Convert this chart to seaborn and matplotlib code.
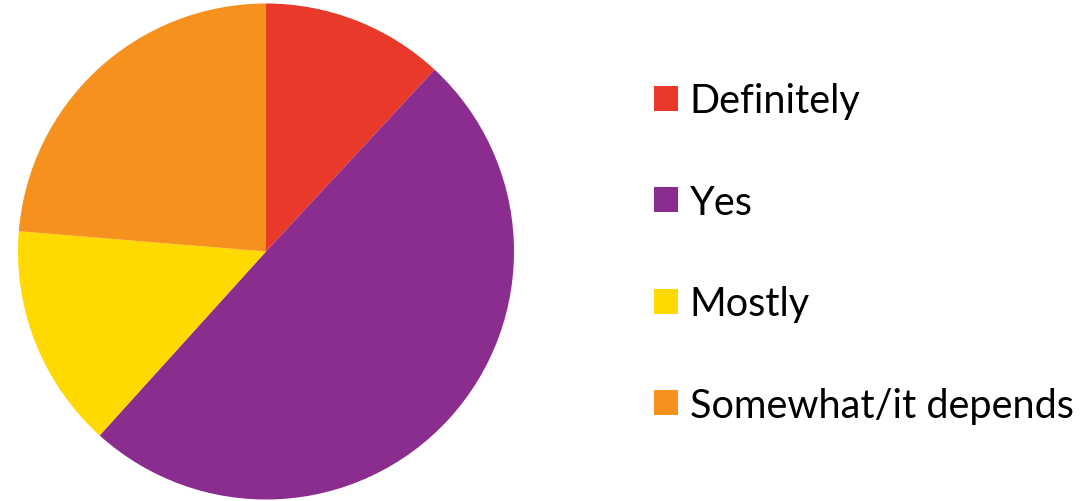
import matplotlib
matplotlib.use("Agg")
import matplotlib.pyplot as plt
from matplotlib.patches import Patch
import seaborn as sns

categories = ["Definitely", "Yes", "Mostly", "Somewhat/it depends"]
values = [11.9, 49.8, 14.6, 23.7]
colors = ["#E8392A", "#8B2C8F", "#FFD900", "#F7911E"]

sns.set_theme(style="white")
plt.rcParams['font.family'] = ['Lato', 'DejaVu Sans']

fig = plt.figure(figsize=(10.84, 5.02), dpi=100)
ax = fig.add_axes([18/1084, 1.5/502, 496/1084, 496/502])
palette = sns.color_palette(colors)
ax.pie(values, colors=palette, startangle=90, counterclock=False,
       wedgeprops=dict(linewidth=0))
ax.set_xlim(-1, 1)
ax.set_ylim(-1, 1)
ax.set_aspect("equal")
ax.axis("off")

handles = [Patch(facecolor=c, edgecolor="none") for c in palette]
leg = fig.legend(handles, categories, loc="center left",
                 bbox_to_anchor=(654/1084, 0.494), frameon=False,
                 fontsize=28.5, handlelength=0.6, handleheight=0.6,
                 handletextpad=0.3, labelspacing=1.63, borderpad=0,
                 borderaxespad=0, labelcolor="black")
fig.savefig("out.png", dpi=100, facecolor="white")
